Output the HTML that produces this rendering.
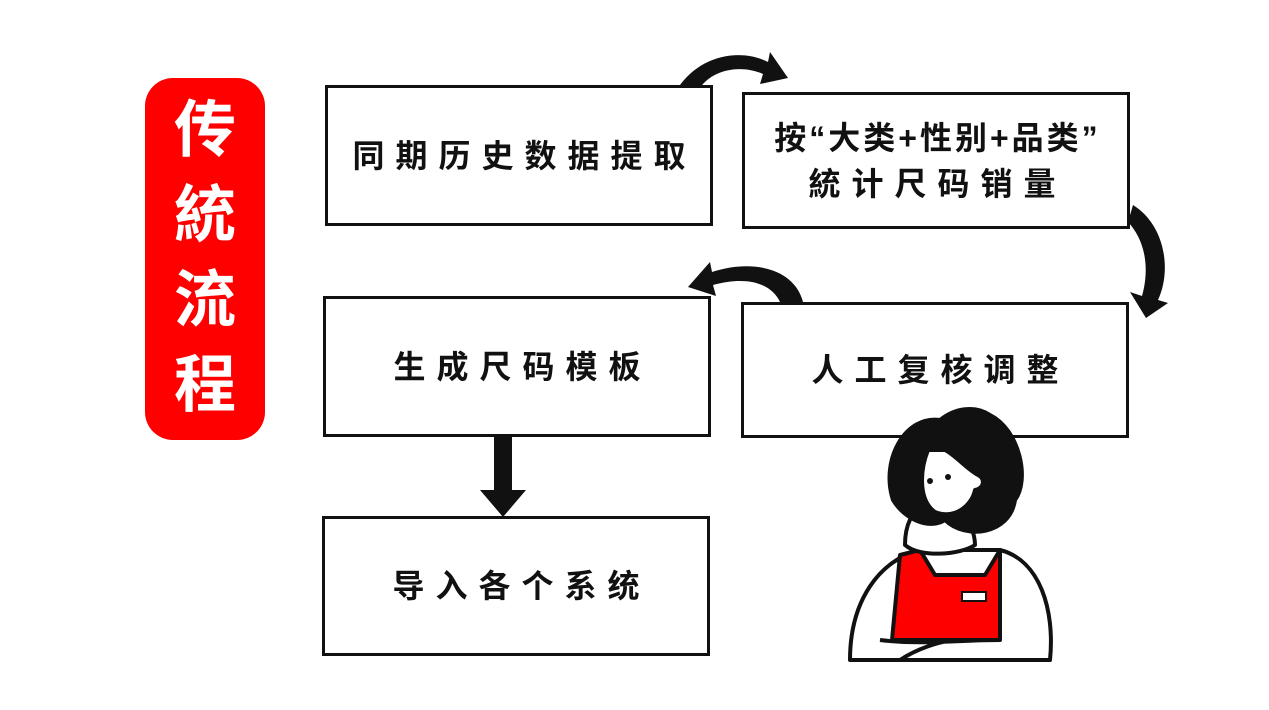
<!DOCTYPE html>
<html><head><meta charset="utf-8"><style>
body{margin:0;width:1269px;height:710px;background:#fff;overflow:hidden;position:relative;font-family:"Liberation Sans","Noto Sans CJK SC",sans-serif}
.box{position:absolute;border:3px solid #111;box-sizing:border-box;display:flex;align-items:center;justify-content:center;text-align:center;font-size:32px;font-weight:bold;color:#111;letter-spacing:11px;line-height:46px;padding-left:11px}
.red{position:absolute;left:145px;top:78px;width:120px;height:362px;background:#f00;border-radius:28px;color:#fff;font-size:62px;font-weight:bold;text-align:center;line-height:85px;padding-top:10px;box-sizing:border-box}
svg{position:absolute;left:0;top:0}
</style></head><body>
<div class="red">传<br>統<br>流<br>程</div>
<div class="box" style="left:325px;top:85px;width:388px;height:141px">同期历史数据提取</div>
<div class="box" style="left:742px;top:92px;width:388px;height:137px;letter-spacing:3px;padding-left:3px"><div style="white-space:nowrap">按“大类+性别+品类”<br><span style="letter-spacing:11px">統计尺码销量</span></div></div>
<div class="box" style="left:323px;top:296px;width:388px;height:141px">生成尺码模板</div>
<div class="box" style="left:741px;top:302px;width:388px;height:136px">人工复核调整</div>
<div class="box" style="left:322px;top:516px;width:388px;height:140px">导入各个系统</div>
<svg width="1269" height="710" viewBox="0 0 1269 710">
<g fill="#111">
<path d="M678 88 C700 55 740 48 768 62 L770 52 L788 78 L760 84 L763 74 C740 64 712 70 700 88 Z"/>
<path d="M1133 205 C1165 225 1172 270 1158 300 L1168 303 L1146 318 L1130 292 L1142 296 C1150 268 1145 240 1128 222 Z"/>
<path d="M803 302 C795 270 755 258 712 272 L710 262 L688 287 L716 296 L713 285 C750 275 772 285 780 302 Z"/>
<path d="M494 437 L512 437 L512 490 L526 490 L503 517 L480 490 L494 490 Z"/>
</g>
<g stroke="#111" stroke-width="4" stroke-linejoin="round">
<path d="M850 660 C850 600 880 560 920 550 L1000 550 C1040 560 1055 610 1050 660 Z" fill="#fff"/>
<path d="M892 640 L900 555 L920 550 L935 575 L985 575 L1000 550 L1000 640 Z" fill="#f00"/>
<path d="M905 545 C905 525 912 510 925 505 L960 505 C970 520 975 535 975 545 C960 555 920 558 905 545 Z" fill="#fff"/>
<path d="M940 420 C905 415 880 460 893 500 C905 520 930 530 945 520 C965 540 1010 535 1015 500 C1030 480 1020 430 990 415 C975 405 955 408 940 420 Z" fill="#111"/>
<path d="M928 450 C920 470 918 500 935 512 C955 520 972 505 975 490 C985 488 985 478 978 475 C968 470 955 455 945 450 Z" fill="#fff"/>
<path d="M880 640 C920 645 960 640 1000 640 M900 660 C915 650 940 640 960 640" fill="none"/>
</g>
<circle cx="930" cy="481" r="3" fill="#111"/><circle cx="948" cy="477" r="3" fill="#111"/>
<rect x="962" y="592" width="24" height="9" fill="#fff" stroke="#111" stroke-width="2"/>
</svg>
</body></html>
